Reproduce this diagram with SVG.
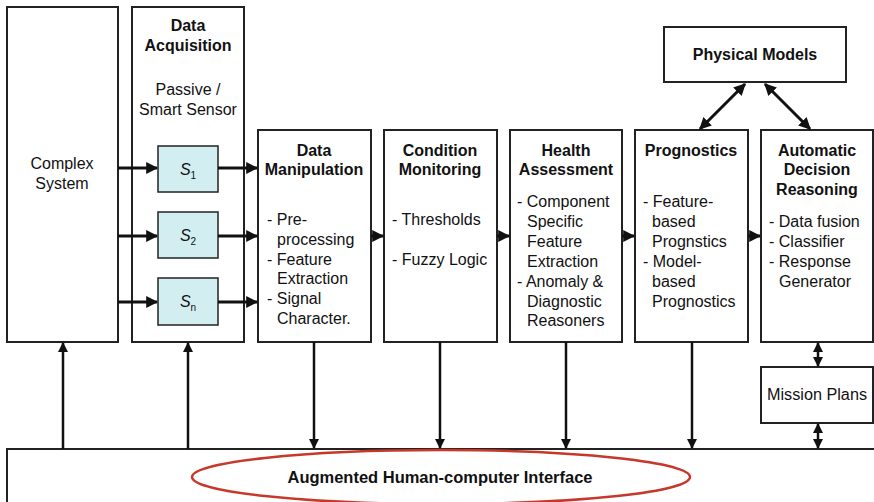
<svg xmlns="http://www.w3.org/2000/svg" width="874" height="502" viewBox="0 0 874 502">
<defs>
<style>
.box{fill:#fff;stroke:#222;stroke-width:2}
.sen{fill:#d3eef0;stroke:#222;stroke-width:1.5}
.t{font-family:"Liberation Sans",Arial,sans-serif;font-size:16px;fill:#111}
.b{font-weight:bold}
.m{text-anchor:middle}
.ln{stroke:#111;stroke-width:3;fill:none}
.lv{stroke:#111;stroke-width:2.5;fill:none}
</style>
<marker id="ah" viewBox="0 0 10 10" refX="9" refY="5" markerWidth="4" markerHeight="4" orient="auto-start-reverse" markerUnits="strokeWidth">
<path d="M0,0 L10,5 L0,10 z" fill="#111"/>
</marker>
</defs>
<rect width="874" height="502" fill="#fff"/>

<g id="complex-system">
<rect class="box" x="7" y="7" width="111" height="335"/>
<text class="t m" x="62" y="169">Complex</text>
<text class="t m" x="62" y="189">System</text>
</g>

<g id="data-acquisition">
<rect class="box" x="132" y="7" width="112" height="335"/>
<text class="t b m" x="188" y="31">Data</text>
<text class="t b m" x="188" y="51">Acquisition</text>
<text class="t m" x="188" y="95">Passive /</text>
<text class="t m" x="188" y="115">Smart Sensor</text>
</g>

<g id="sensor-1">
<rect class="sen" x="158" y="146" width="60" height="46"/>
<text class="t m" x="188" y="175"><tspan font-style="italic">S</tspan><tspan font-size="10" dy="4">1</tspan></text>
</g>
<g id="sensor-2">
<rect class="sen" x="158" y="212" width="60" height="46"/>
<text class="t m" x="188" y="241"><tspan font-style="italic">S</tspan><tspan font-size="10" dy="4">2</tspan></text>
</g>
<g id="sensor-n">
<rect class="sen" x="158" y="278" width="60" height="47"/>
<text class="t m" x="188" y="307"><tspan font-style="italic">S</tspan><tspan font-size="10" dy="4">n</tspan></text>
</g>

<g id="data-manipulation">
<rect class="box" x="258" y="130" width="113" height="212"/>
<text class="t b m" x="314" y="156">Data</text>
<text class="t b m" x="314" y="175">Manipulation</text>
<text class="t" x="267" y="225">- Pre-</text>
<text class="t" x="277" y="245">processing</text>
<text class="t" x="267" y="265">- Feature</text>
<text class="t" x="277" y="284">Extraction</text>
<text class="t" x="267" y="304">- Signal</text>
<text class="t" x="277" y="324">Character.</text>
</g>

<g id="condition-monitoring">
<rect class="box" x="384" y="130" width="113" height="212"/>
<text class="t b m" x="440" y="156">Condition</text>
<text class="t b m" x="440" y="175">Monitoring</text>
<text class="t" x="392" y="225">- Thresholds</text>
<text class="t" x="392" y="265">- Fuzzy Logic</text>
</g>

<g id="health-assessment">
<rect class="box" x="510" y="130" width="112" height="212"/>
<text class="t b m" x="566" y="156">Health</text>
<text class="t b m" x="566" y="175">Assessment</text>
<text class="t" x="517" y="207">- Component</text>
<text class="t" x="527" y="227">Specific</text>
<text class="t" x="527" y="247">Feature</text>
<text class="t" x="527" y="267">Extraction</text>
<text class="t" x="517" y="287">- Anomaly &amp;</text>
<text class="t" x="527" y="307">Diagnostic</text>
<text class="t" x="527" y="326">Reasoners</text>
</g>

<g id="prognostics">
<rect class="box" x="635" y="130" width="113" height="212"/>
<text class="t b m" x="691" y="156">Prognostics</text>
<text class="t" x="643" y="207">- Feature-</text>
<text class="t" x="652" y="227">based</text>
<text class="t" x="652" y="247">Prognstics</text>
<text class="t" x="643" y="267">- Model-</text>
<text class="t" x="652" y="287">based</text>
<text class="t" x="652" y="307">Prognostics</text>
</g>

<g id="automatic-decision-reasoning">
<rect class="box" x="761" y="130" width="112" height="212"/>
<text class="t b m" x="817" y="156">Automatic</text>
<text class="t b m" x="817" y="175">Decision</text>
<text class="t b m" x="817" y="195">Reasoning</text>
<text class="t" x="769" y="227">- Data fusion</text>
<text class="t" x="769" y="247">- Classifier</text>
<text class="t" x="769" y="267">- Response</text>
<text class="t" x="779" y="287">Generator</text>
</g>

<g id="physical-models">
<rect class="box" x="664" y="27" width="182" height="55"/>
<text class="t b m" x="755" y="60">Physical Models</text>
</g>

<g id="mission-plans">
<rect class="box" x="761" y="367" width="112" height="56"/>
<text class="t m" x="817" y="400" textLength="100" lengthAdjust="spacingAndGlyphs">Mission Plans</text>
</g>

<g id="hci">
<rect class="box" x="7" y="449" width="875" height="70"/>
<ellipse cx="441" cy="477" rx="249" ry="27" fill="none" stroke="#c8382a" stroke-width="2.5"/>
<text class="t b m" x="440" y="483" textLength="305" lengthAdjust="spacingAndGlyphs">Augmented Human-computer Interface</text>
</g>

<g id="connectors">
<line class="ln" x1="118" y1="168" x2="157" y2="168" marker-end="url(#ah)"/>
<line class="ln" x1="118" y1="236" x2="157" y2="236" marker-end="url(#ah)"/>
<line class="ln" x1="118" y1="302" x2="157" y2="302" marker-end="url(#ah)"/>
<line class="ln" x1="218" y1="168" x2="257" y2="168" marker-end="url(#ah)"/>
<line class="ln" x1="218" y1="236" x2="257" y2="236" marker-end="url(#ah)"/>
<line class="ln" x1="218" y1="302" x2="257" y2="302" marker-end="url(#ah)"/>
<line class="ln" x1="371" y1="236" x2="383" y2="236" marker-end="url(#ah)"/>
<line class="ln" x1="497" y1="236" x2="509" y2="236" marker-end="url(#ah)"/>
<line class="ln" x1="622" y1="236" x2="634" y2="236" marker-end="url(#ah)"/>
<line class="ln" x1="748" y1="236" x2="760" y2="236" marker-end="url(#ah)"/>
<line class="ln" x1="745" y1="84" x2="700" y2="129" marker-start="url(#ah)" marker-end="url(#ah)"/>
<line class="ln" x1="765" y1="84" x2="810" y2="129" marker-start="url(#ah)" marker-end="url(#ah)"/>
<line class="lv" x1="63" y1="449" x2="63" y2="343" marker-end="url(#ah)"/>
<line class="lv" x1="188" y1="449" x2="188" y2="343" marker-end="url(#ah)"/>
<line class="lv" x1="314" y1="342" x2="314" y2="448" marker-end="url(#ah)"/>
<line class="lv" x1="440" y1="342" x2="440" y2="448" marker-end="url(#ah)"/>
<line class="lv" x1="566" y1="342" x2="566" y2="448" marker-end="url(#ah)"/>
<line class="lv" x1="692" y1="342" x2="692" y2="448" marker-end="url(#ah)"/>
<line class="lv" x1="818" y1="343" x2="818" y2="366" marker-start="url(#ah)" marker-end="url(#ah)"/>
<line class="lv" x1="818" y1="424" x2="818" y2="448" marker-start="url(#ah)" marker-end="url(#ah)"/>
</g>
</svg>
